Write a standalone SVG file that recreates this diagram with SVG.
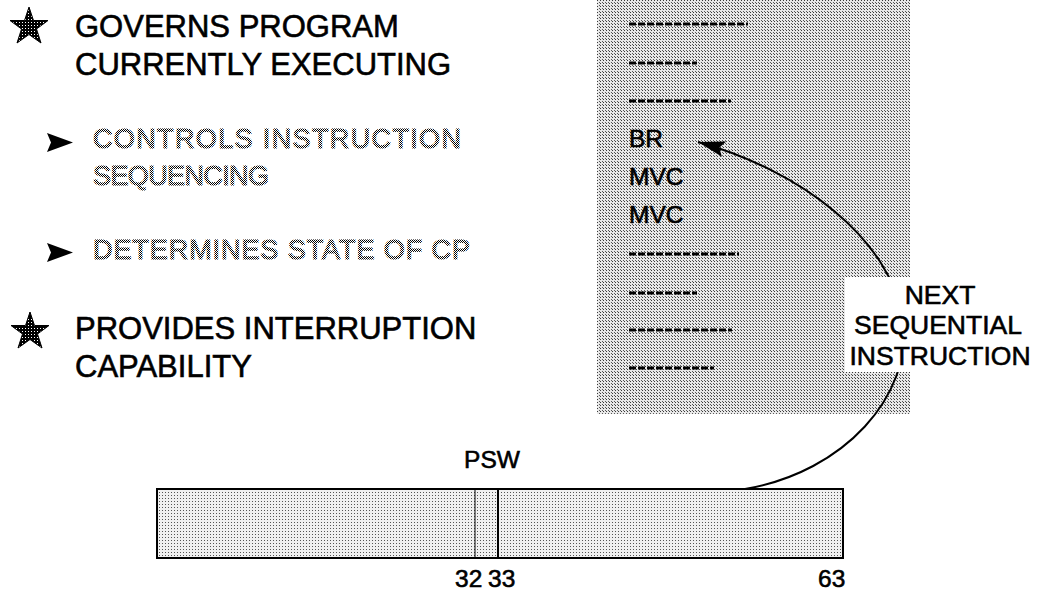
<svg xmlns="http://www.w3.org/2000/svg" width="1037" height="590" viewBox="0 0 1037 590">
  <defs>
    <pattern id="coarse" x="0" y="0" width="3" height="3" patternUnits="userSpaceOnUse">
      <rect width="3" height="3" fill="#e8e8e8"/>
      <rect x="0" y="0" width="1" height="1" fill="#3a3a3a"/>
      <rect x="2" y="2" width="1" height="1" fill="#5a5a5a"/>
    </pattern>
    <pattern id="fine" x="0" y="0" width="3" height="3" patternUnits="userSpaceOnUse">
      <rect width="3" height="3" fill="#f0f0f0"/>
      <rect x="0" y="0" width="1" height="1" fill="#555"/>
    </pattern>
    <pattern id="checker" x="0" y="0" width="2" height="2" patternUnits="userSpaceOnUse">
      <rect width="2" height="2" fill="#ffffff"/>
      <rect x="0" y="0" width="1" height="1" fill="#000"/>
      <rect x="1" y="1" width="1" height="1" fill="#000"/>
    </pattern>
    <pattern id="stardots" x="0" y="0" width="3" height="3" patternUnits="userSpaceOnUse">
      <rect width="3" height="3" fill="#000"/>
      <rect x="1" y="1" width="1" height="1" fill="#fff"/>
    </pattern>
    <marker id="head" markerUnits="userSpaceOnUse" markerWidth="30" markerHeight="18" refX="27" refY="8" orient="auto" overflow="visible">
      <path d="M0,0 L27,8 L0,16 L5,8 Z" fill="#000"/>
    </marker>
    <style>
      .t { font-family: "Liberation Sans", Arial, sans-serif; fill: #000; stroke: #000; stroke-width: 0.6px; }
      .h { font-size: 31px; }
      .s { font-size: 27px; fill: url(#checker); stroke: url(#checker); stroke-width: 1.1px; }
      .m { font-size: 24.5px; }
      .lbl { font-size: 26.5px; text-anchor: middle; }
      .dash { stroke: #000; stroke-width: 3; stroke-dasharray: 7 2; fill: none; }
    </style>
  </defs>

  <!-- left bullet text -->
  <g id="bullet1">
    <polygon points="29,7 33.5,20.5 48,20.5 36.5,29 41,43 29,34.5 17,43 21.5,29 10,20.5 24.5,20.5" fill="url(#stardots)" stroke="#000" stroke-width="1"/>
    <text class="t h" x="75" y="37">GOVERNS PROGRAM</text>
    <text class="t h" x="75" y="75">CURRENTLY EXECUTING</text>
  </g>
  <g id="sub1">
    <polygon points="47,133 73,142.5 47,152 51,142.5" fill="#000"/>
    <text class="t s" x="93" y="148" textLength="368" lengthAdjust="spacing">CONTROLS INSTRUCTION</text>
    <text class="t s" x="93" y="185" textLength="176" lengthAdjust="spacing">SEQUENCING</text>
  </g>
  <g id="sub2">
    <polygon points="47,243 73,252.5 47,262 51,252.5" fill="#000"/>
    <text class="t s" x="93" y="259" textLength="377" lengthAdjust="spacing">DETERMINES STATE OF CP</text>
  </g>
  <g id="bullet2">
    <polygon points="30,312 34.5,325.5 49,325.5 37.5,334 42,348 30,339.5 18,348 22.5,334 11,325.5 25.5,325.5" fill="url(#stardots)" stroke="#000" stroke-width="1"/>
    <text class="t h" x="75" y="339">PROVIDES INTERRUPTION</text>
    <text class="t h" x="75" y="377">CAPABILITY</text>
  </g>

  <!-- storage / instruction list -->
  <g id="storage">
    <rect x="597" y="0" width="313" height="414" fill="url(#coarse)"/>
    <line class="dash" x1="629" y1="24" x2="748" y2="24"/>
    <line class="dash" x1="629" y1="63" x2="697" y2="63"/>
    <line class="dash" x1="629" y1="101" x2="731" y2="101"/>
    <text class="t m" x="629" y="147">BR</text>
    <text class="t m" x="629" y="185">MVC</text>
    <text class="t m" x="629" y="223">MVC</text>
    <line class="dash" x1="629" y1="254" x2="739" y2="254"/>
    <line class="dash" x1="629" y1="293" x2="697" y2="293"/>
    <line class="dash" x1="629" y1="330" x2="732" y2="330"/>
    <line class="dash" x1="629" y1="368" x2="714" y2="368"/>
  </g>

  <!-- PSW -->
  <g id="psw">
    <text class="t m" x="492" y="468" text-anchor="middle">PSW</text>
    <rect x="157" y="489" width="686" height="69" fill="url(#fine)" stroke="#000" stroke-width="2"/>
    <line x1="475" y1="489" x2="475" y2="558" stroke="#000" stroke-width="1"/>
    <line x1="498" y1="489" x2="498" y2="558" stroke="#000" stroke-width="2"/>
    <text class="t m" x="455" y="587">32</text>
    <text class="t m" x="488" y="587">33</text>
    <text class="t m" x="818" y="587">63</text>
  </g>

  <!-- connector -->
  <g id="connectors">
    <path d="M745,489 C845,472 912,395 903,322 C893,240 800,170 698,142" fill="none" stroke="#000" stroke-width="2" marker-end="url(#head)"/>
  </g>

  <!-- label -->
  <g id="label">
    <rect x="845" y="277" width="192" height="95" fill="#fff"/>
    <text class="t lbl" x="940" y="304">NEXT</text>
    <text class="t lbl" x="938" y="334">SEQUENTIAL</text>
    <text class="t lbl" x="940" y="365">INSTRUCTION</text>
  </g>
</svg>
